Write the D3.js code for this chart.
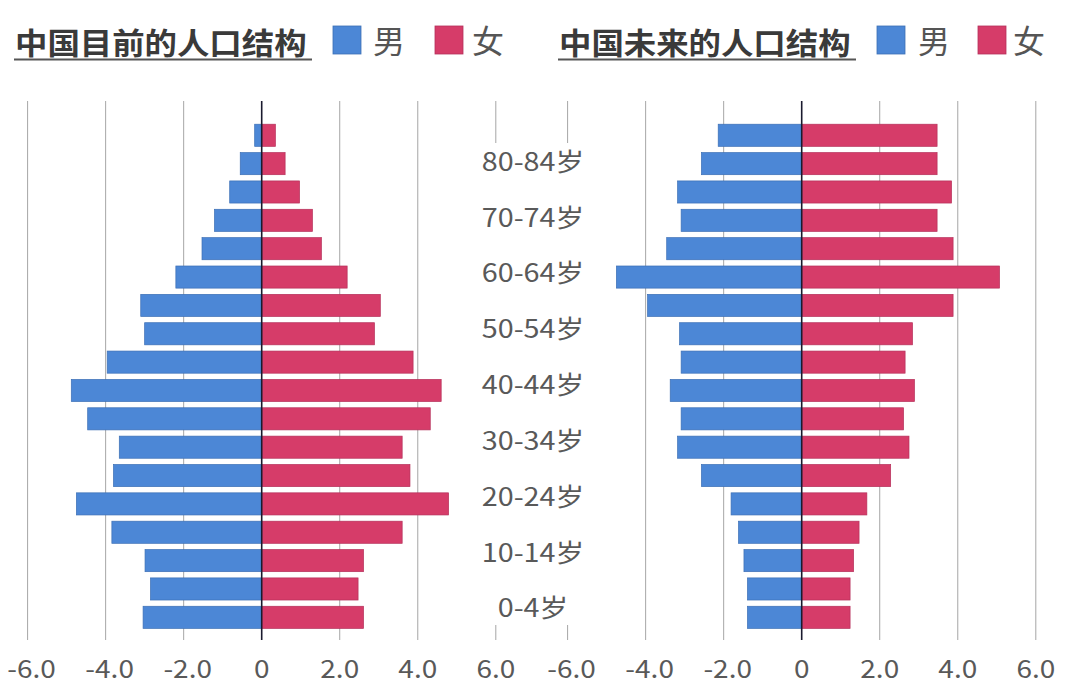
<!DOCTYPE html>
<html>
<head>
<meta charset="utf-8">
<script src="https://cdn.jsdelivr.net/npm/d3@7"></script>
<style>
  html, body { margin: 0; padding: 0; background: #ffffff; }
  svg { display: block; }
</style>
</head>
<body>
<svg id="chart" width="1080" height="693"></svg>
<script>
// ---- data (index 0 = 0-4岁, last = 85+) ----
const ages = ["0-4","5-9","10-14","15-19","20-24","25-29","30-34","35-39","40-44",
              "45-49","50-54","55-59","60-64","65-69","70-74","75-79","80-84","85+"];
const labelAges = ["0-4","10-14","20-24","30-34","40-44","50-54","60-64","70-74","80-84"];
const maleNow    = [3.04,2.85,2.99,3.84,4.75,3.80,3.65,4.46,4.88,3.96,3.00,3.10,2.20,1.53,1.21,0.82,0.55,0.18];
const femaleNow  = [2.61,2.47,2.61,3.60,4.79,3.80,3.60,4.32,4.60,3.88,2.89,3.04,2.19,1.53,1.30,0.97,0.60,0.35];
const maleFuture   = [1.39,1.39,1.48,1.62,1.81,2.57,3.18,3.09,3.37,3.09,3.13,3.95,4.75,3.46,3.09,3.18,2.57,2.14];
const femaleFuture = [1.24,1.24,1.33,1.47,1.67,2.28,2.75,2.61,2.89,2.65,2.84,3.88,5.07,3.88,3.47,3.84,3.47,3.47];
const xTicks = [-6, -4, -2, 0, 2, 4, 6];
const titles = ["中国目前的人口结构", "中国未来的人口结构"];
const legendNames = ["男", "女"];

// ---- styles ----
const BLUE = "#4c87d6", BLUE_EDGE = "#3c6fb5";
const RED = "#d63c69", RED_EDGE = "#b5305a";
const GRID = "#a6a6a6";
const TXT = "#555555";
const FONT = "'Noto Sans CJK SC', 'Noto Sans', sans-serif";

const svg = d3.select("#chart");

const yBand = d3.scaleBand().domain(ages.slice().reverse())
  .range([121.1, 631.5]).paddingInner(0.22).paddingOuter(0.11);
const yLabel = d3.scalePoint().domain(ages.slice().reverse()).range([132.1, 606.7]);

const GRID_TOP = 101, GRID_BOTTOM = 640;

function stretchedText(g, x, y, str, opts) {
  return g.append("text")
    .attr("transform", `translate(${x},${y}) scale(${opts.sx || 1},1)`)
    .attr("text-anchor", opts.anchor || "middle")
    .attr("dominant-baseline", "central")
    .attr("font-family", FONT)
    .attr("font-size", opts.size)
    .attr("font-weight", opts.weight || "normal")
    .attr("fill", opts.fill || TXT)
    .text(str);
}

const panels = [
  { range: [27.6, 495.8], male: maleNow, female: femaleNow, title: titles[0],
    titleX: 15, underline: [14, 312], sq1: 333, t1: 389, sq2: 435, t2: 488 },
  { range: [567.6, 1035.8], male: maleFuture, female: femaleFuture, title: titles[1],
    titleX: 559, underline: [558, 856], sq1: 877, t1: 934, sq2: 978, t2: 1029 }
];

panels.forEach(p => {
  const x = d3.scaleLinear().domain([-6, 6]).range(p.range);
  const g = svg.append("g");

  // gridlines
  g.selectAll("line.grid").data(xTicks.filter(d => d !== 0)).enter().append("line")
    .attr("x1", d => x(d)).attr("x2", d => x(d))
    .attr("y1", GRID_TOP).attr("y2", GRID_BOTTOM)
    .attr("stroke", GRID).attr("stroke-width", 1);

  // bars
  g.selectAll("rect.m").data(ages).enter().append("rect")
    .attr("x", (d, i) => x(-p.male[i]))
    .attr("y", d => yBand(d))
    .attr("width", (d, i) => x(0) - x(-p.male[i]))
    .attr("height", yBand.bandwidth())
    .attr("fill", BLUE).attr("stroke", BLUE_EDGE).attr("stroke-width", 0.7);
  g.selectAll("rect.f").data(ages).enter().append("rect")
    .attr("x", x(0))
    .attr("y", d => yBand(d))
    .attr("width", (d, i) => x(p.female[i]) - x(0))
    .attr("height", yBand.bandwidth())
    .attr("fill", RED).attr("stroke", RED_EDGE).attr("stroke-width", 0.7);

  // zero axis
  g.append("line").attr("x1", x(0)).attr("x2", x(0))
    .attr("y1", GRID_TOP).attr("y2", GRID_BOTTOM)
    .attr("stroke", "#1a1a2e").attr("stroke-width", 1.6);

  // tick labels
  xTicks.forEach(t => {
    const s = t === 0 ? "0" : d3.format(".1f")(t).replace("−", "-");
    stretchedText(g, x(t) + (t < 0 ? 4 : 0), 667, s, { size: 25, sx: 1.12, fill: "#595959" });
  });

  // title + underline
  stretchedText(svg, p.titleX, 41, p.title, { size: 30, sx: 1.08, anchor: "start", weight: "bold", fill: "#3a3a3a" });
  svg.append("line").attr("x1", p.underline[0]).attr("x2", p.underline[1])
    .attr("y1", 59.5).attr("y2", 59.5).attr("stroke", "#555").attr("stroke-width", 2);

  // legend
  svg.append("rect").attr("x", p.sq1).attr("y", 26).attr("width", 28).attr("height", 28)
    .attr("fill", BLUE).attr("stroke", BLUE_EDGE).attr("stroke-width", 0.8);
  stretchedText(svg, p.t1, 39, legendNames[0], { size: 32, sx: 1.0, fill: "#555" });
  svg.append("rect").attr("x", p.sq2).attr("y", 26).attr("width", 28).attr("height", 28)
    .attr("fill", RED).attr("stroke", RED_EDGE).attr("stroke-width", 0.8);
  stretchedText(svg, p.t2, 39, legendNames[1], { size: 32, sx: 1.0, fill: "#555" });
});

// central label column (covers the inner gridlines)
svg.append("rect").attr("x", 474).attr("y", 143).attr("width", 118).attr("height", 482)
  .attr("fill", "#ffffff");
labelAges.forEach(a => {
  stretchedText(svg, 533, yLabel(a), a + "岁", { size: 25, sx: 1.15, fill: "#595959" });
});
</script>
</body>
</html>
